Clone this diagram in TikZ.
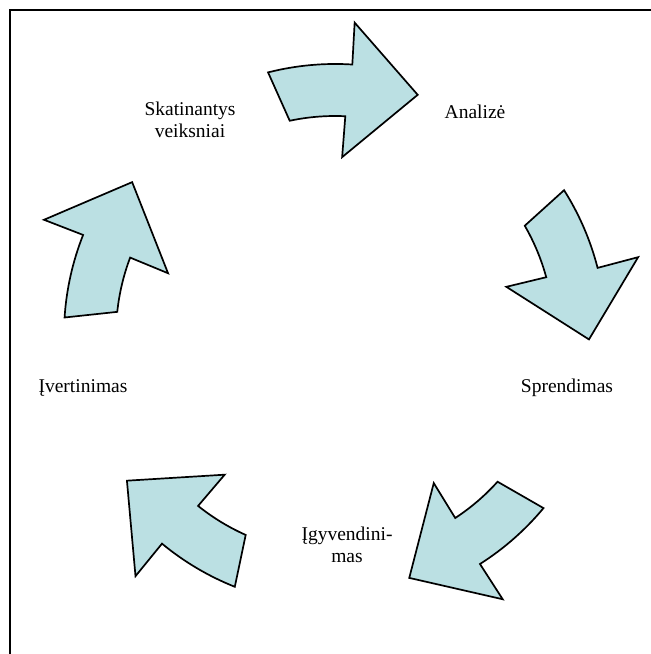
\documentclass[tikz,border=0pt]{standalone}
\usepackage{fontspec}
\setmainfont{Liberation Serif}
\begin{document}
\begin{tikzpicture}[x=1pt,y=1pt,
  cyclearrow/.style={draw=black,line width=1.7pt,fill=arrowfill,line join=miter},
  lbl/.style={inner sep=0pt,align=center,font=\fontsize{19.5}{22}\selectfont}]
\definecolor{arrowfill}{RGB}{187,224,227}
\useasboundingbox (0,0) rectangle (651,654);
% frame (only top and left edges fall inside the picture)
\draw[line width=2pt] (10,-5) -- (10,644) -- (660,644);
% five curved arrows around the centre
\foreach \r in {0,-72,-144,-216,-288}{
  \begin{scope}[shift={(335,319)},rotate=\r]
    \path[cyclearrow] (104.3:271pt) arc[start angle=104.3,end angle=86.4,radius=272pt]
      -- (86.4:313pt) -- (71:254pt) -- (87.7:178pt) -- (87.3:219pt)
      arc[start angle=87.3,end angle=102,radius=218pt] -- cycle;
  \end{scope}
}
\node[lbl] (skat) at (190,534) {Skatinantys\\veiksniai};
\node[lbl] (anal) at (475,542) {Analizė};
\node[lbl,anchor=base] (spren) at (567,261) {Sprendimas};
\node[lbl] (igyv) at (347,109) {Įgyvendini-\\mas};
\node[lbl,anchor=base] (ivert) at (83,261) {Įvertinimas};
\end{tikzpicture}
\end{document}
